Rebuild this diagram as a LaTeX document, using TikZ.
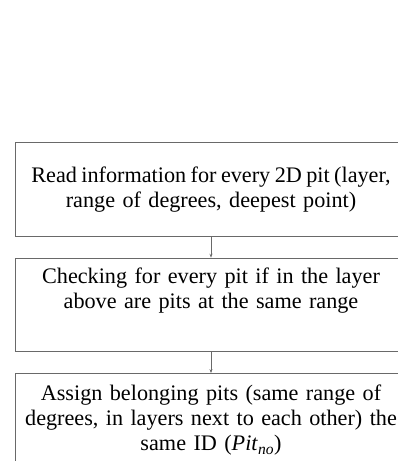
\documentclass[tikz,border=0pt]{standalone}
\usepackage{fontspec}
\setmainfont{Liberation Serif}
\usetikzlibrary{positioning,arrows.meta}
\definecolor{boxgray}{RGB}{105,105,105}
\begin{document}
\begin{tikzpicture}[x=1pt,y=1pt,node distance=21pt,
  every node/.style={font=\fontsize{22.2}{25.2}\selectfont},
  stepbox/.style={draw=boxgray,line width=0.9pt,minimum width=392pt,minimum height=93.5pt,
    text width=392pt,align=center,inner sep=0pt},
  flow/.style={draw=boxgray,line width=0.9pt,-{Stealth[length=4pt,width=3pt]}}]
  \useasboundingbox (0,0) rectangle (398,-461);
  \clip (0,0) rectangle (398,-461);
  \node[stepbox] (read) at (211,-189.5) {{\spaceskip=0.2em\relax Read information for every 2D pit (layer,}\\ range of degrees, deepest point)};
  \node[stepbox,below=of read] (check) {Checking for every pit if in the layer\\ above are pits at the same range\\ \strut};
  \node[stepbox,below=of check] (assign) {Assign belonging pits (same range of\\ degrees, in layers next to each other) the\\ same ID (\textit{Pit}\textsubscript{\textit{no}})};
  \draw[flow] (read) -- (check);
  \draw[flow] (check) -- (assign);
\end{tikzpicture}
\end{document}
